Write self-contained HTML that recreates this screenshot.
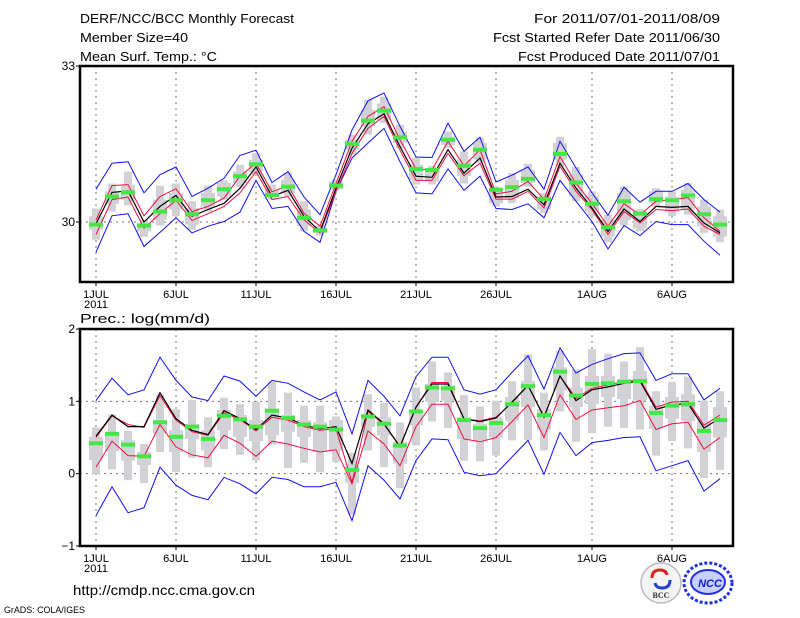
<!DOCTYPE html>
<html><head><meta charset="utf-8"><style>
html,body{margin:0;padding:0;background:#fff;width:800px;height:618px;overflow:hidden}
svg{display:block;font-family:"Liberation Sans",sans-serif}
</style></head><body>
<svg id="chart" width="800" height="618" viewBox="0 0 800 618" xmlns="http://www.w3.org/2000/svg">
<g font-size="13" fill="#000">
<text x="80" y="23" textLength="214" lengthAdjust="spacingAndGlyphs">DERF/NCC/BCC Monthly Forecast</text>
<text x="80" y="42" textLength="108" lengthAdjust="spacingAndGlyphs">Member Size=40</text>
<text x="80" y="61" textLength="137" lengthAdjust="spacingAndGlyphs">Mean Surf. Temp.: °C</text>
<text x="720" y="23" text-anchor="end" textLength="186" lengthAdjust="spacingAndGlyphs">For 2011/07/01-2011/08/09</text>
<text x="720" y="42" text-anchor="end" textLength="227" lengthAdjust="spacingAndGlyphs">Fcst Started Refer Date 2011/06/30</text>
<text x="720" y="61" text-anchor="end" textLength="202" lengthAdjust="spacingAndGlyphs">Fcst Produced Date 2011/07/01</text>
<text x="80" y="323" textLength="130" lengthAdjust="spacingAndGlyphs">Prec.: log(mm/d)</text>
<text x="73" y="595" font-size="14" textLength="182" lengthAdjust="spacingAndGlyphs">http://cmdp.ncc.cma.gov.cn</text>
<text x="4" y="613" font-size="9" textLength="81" lengthAdjust="spacingAndGlyphs">GrADS: COLA/IGES</text>
</g>
<g id="top"></g>
<g id="bot"></g>
<g>
<circle cx="661" cy="583" r="20" fill="#f4f4f4" stroke="#bbb" stroke-width="1.5"/>
<path d="M652 578 q0 -8 8 -8 q6 0 7 5" fill="none" stroke="#e02020" stroke-width="3"/>
<path d="M670 580 q0 8 -8 8 q-6 0 -7 -5" fill="none" stroke="#2040d0" stroke-width="3"/>
<text x="661" y="598" font-size="8" font-weight="bold" text-anchor="middle" fill="#333" font-family="Liberation Serif,serif">BCC</text>
</g>
<g>
<ellipse cx="708" cy="583" rx="24" ry="20" fill="none" stroke="#2030e0" stroke-width="3" stroke-dasharray="3 2"/>
<ellipse cx="708" cy="582" rx="17" ry="12" fill="#c8d0ff" stroke="#2030e0" stroke-width="2"/>
<text x="710" y="587" font-size="11" font-weight="bold" font-style="italic" text-anchor="middle" fill="#1020d0">NCC</text>
</g>
</svg>
<script>
// ---- Temperature panel data (°C), days Jul1..Aug9 ----
const tDays = 40;
const tTickLabels = ["1JUL","6JUL","11JUL","16JUL","21JUL","26JUL","1AUG","6AUG"];
const tTickDays = [0,5,10,15,20,25,31,36];
const tBlueHi = [30.63,31.13,31.16,30.56,30.91,31.06,30.49,30.65,30.84,31.28,31.38,30.76,30.97,30.48,30.14,30.91,31.77,32.33,32.48,31.84,31.25,31.24,31.90,31.36,31.63,30.77,30.90,31.06,30.63,31.55,31.04,30.56,30.13,30.67,30.38,30.59,30.59,30.74,30.43,30.19];
const tBlueLo = [29.42,30.12,30.16,29.53,29.80,30.08,29.79,29.92,30.01,30.19,30.80,30.26,30.30,29.82,29.61,30.59,31.23,31.52,31.80,31.16,30.56,30.54,31.02,30.61,30.88,30.26,30.24,30.35,30.08,30.80,30.40,30.01,29.48,29.93,29.74,30.01,29.95,29.95,29.63,29.36];
const tMean = [29.97,30.57,30.60,30.00,30.30,30.51,30.11,30.24,30.36,30.65,31.06,30.49,30.61,30.11,29.82,30.65,31.42,31.89,32.08,31.45,30.88,30.86,31.39,30.94,31.23,30.48,30.49,30.63,30.33,31.13,30.65,30.27,29.82,30.25,30.01,30.30,30.28,30.30,29.98,29.79];
const tRedHi = [30.04,30.70,30.72,30.12,30.49,30.64,30.20,30.30,30.46,30.88,31.13,30.58,30.70,30.17,29.92,30.74,31.55,32.03,32.22,31.58,31.02,31.00,31.55,31.08,31.39,30.54,30.59,30.78,30.43,31.26,30.74,30.36,29.92,30.35,30.14,30.40,30.43,30.47,30.08,29.82];
const tRedLo = [29.76,30.43,30.48,29.88,30.16,30.42,30.03,30.16,30.30,30.56,30.97,30.43,30.49,30.04,29.79,30.59,31.32,31.80,32.03,31.38,30.80,30.80,31.32,30.89,31.13,30.44,30.44,30.59,30.27,31.07,30.59,30.24,29.76,30.20,29.98,30.24,30.22,30.25,29.92,29.76];
const tGreen = [29.95,30.49,30.57,29.93,30.20,30.42,30.15,30.42,30.63,30.88,31.11,30.52,30.68,30.08,29.84,30.70,31.50,31.95,32.14,31.63,31.02,31.00,31.58,31.08,31.39,30.62,30.67,30.83,30.44,31.31,30.76,30.35,29.90,30.40,30.16,30.44,30.42,30.51,30.15,29.95];
const tWhiskHi = [30.26,30.74,30.97,30.04,30.70,30.74,30.40,30.70,30.80,31.10,31.32,30.72,30.95,30.40,29.93,30.81,31.68,32.35,32.41,31.87,31.23,31.08,31.74,31.36,31.62,30.68,30.94,31.12,30.56,31.64,31.06,30.59,30.14,30.68,30.25,30.65,30.59,30.75,30.43,30.24];
const tWhiskLo = [29.66,30.20,30.32,29.71,29.93,30.11,29.85,30.20,30.43,30.67,30.91,30.43,30.49,29.82,29.74,30.61,31.29,31.68,31.90,31.42,30.72,30.72,31.42,30.74,31.14,30.30,30.36,30.68,30.17,31.07,30.40,30.11,29.61,29.93,29.82,30.30,30.11,30.14,29.79,29.61];
const tBoxHi = [30.11,30.59,30.72,29.98,30.43,30.56,30.27,30.56,30.75,30.97,31.20,30.62,30.81,30.24,29.88,30.78,31.58,32.16,32.28,31.74,31.10,31.00,31.64,31.20,31.52,30.62,30.81,31.00,30.49,31.52,30.91,30.49,30.04,30.56,30.20,30.59,30.49,30.62,30.30,30.11];
const tBoxLo = [29.85,30.35,30.43,29.82,30.04,30.24,29.95,30.30,30.49,30.75,30.97,30.49,30.56,29.92,29.79,30.63,31.39,31.84,31.96,31.52,30.81,30.78,31.48,30.88,31.20,30.36,30.46,30.75,30.24,31.20,30.49,30.20,29.72,30.04,29.88,30.36,30.20,30.24,29.92,29.72];
const tYTicks = [33,30];

// ---- Precipitation panel data (log mm/d) ----
const pBlueHi = [1.01,1.32,1.09,1.16,1.61,1.29,1.06,1.01,1.35,1.28,1.07,1.29,1.25,1.13,1.02,1.13,0.55,1.29,1.07,0.80,1.34,1.61,1.61,1.16,1.10,1.16,1.40,1.63,1.17,1.74,1.39,1.51,1.59,1.66,1.67,1.29,1.38,1.38,1.02,1.18];
const pBlueLo = [-0.58,-0.18,-0.54,-0.47,0.09,-0.16,-0.30,-0.36,-0.05,-0.14,-0.28,-0.05,-0.08,-0.18,-0.18,-0.12,-0.65,0.11,-0.09,-0.35,0.18,0.48,0.47,0.02,-0.03,0.00,0.23,0.46,-0.01,0.57,0.25,0.43,0.46,0.50,0.51,0.04,0.11,0.18,-0.24,-0.07];
const pMean = [0.52,0.81,0.65,0.65,1.12,0.76,0.60,0.54,0.87,0.76,0.61,0.81,0.77,0.67,0.62,0.65,0.14,0.88,0.69,0.37,0.92,1.24,1.24,0.76,0.72,0.77,0.99,1.22,0.78,1.35,1.01,1.16,1.20,1.25,1.28,0.89,0.95,0.97,0.63,0.77];
const pRedHi = [0.50,0.80,0.68,0.64,1.08,0.74,0.58,0.53,0.84,0.75,0.59,0.78,0.74,0.65,0.60,0.62,-0.12,0.86,0.68,0.38,0.92,1.26,1.26,0.76,0.73,0.78,0.98,1.22,0.79,1.35,1.04,1.18,1.23,1.27,1.30,0.92,0.99,1.00,0.67,0.81];
const pRedLo = [0.09,0.45,0.25,0.24,0.68,0.37,0.26,0.22,0.53,0.42,0.24,0.45,0.41,0.35,0.30,0.33,-0.14,0.59,0.41,0.11,0.65,0.96,0.96,0.48,0.44,0.50,0.72,0.95,0.50,1.09,0.75,0.88,0.91,0.94,1.01,0.61,0.69,0.71,0.34,0.50];
const pGreen = [0.42,0.55,0.40,0.24,0.71,0.51,0.65,0.48,0.80,0.75,0.65,0.87,0.77,0.68,0.65,0.61,0.05,0.79,0.69,0.39,0.86,1.19,1.18,0.74,0.63,0.70,0.96,1.21,0.81,1.41,1.08,1.24,1.25,1.27,1.28,0.84,0.94,0.96,0.59,0.74];
const pWhiskHi = [0.64,0.82,0.59,0.41,1.09,0.89,1.02,0.78,1.05,0.96,0.99,1.27,1.12,0.94,0.94,0.79,0.29,1.10,0.98,0.71,1.19,1.55,1.40,1.09,0.93,1.01,1.28,1.65,1.12,1.70,1.44,1.72,1.66,1.55,1.75,1.14,1.27,1.34,1.01,1.14];
const pWhiskLo = [0.00,0.06,-0.09,-0.13,0.30,0.02,0.22,0.09,0.34,0.26,0.18,0.40,0.08,0.15,0.02,0.16,-0.57,0.32,0.09,-0.20,0.39,0.72,0.63,0.18,0.17,0.25,0.46,0.46,0.32,0.86,0.44,0.56,0.65,0.63,0.61,0.25,0.45,0.35,-0.06,0.05];
const pBoxHi = [0.51,0.58,0.46,0.30,0.74,0.60,0.69,0.60,0.88,0.81,0.74,0.90,0.81,0.74,0.71,0.74,0.12,0.83,0.78,0.44,0.88,1.24,1.22,0.78,0.69,0.78,1.06,1.28,0.89,1.47,1.19,1.35,1.35,1.31,1.42,0.94,1.06,1.10,0.73,0.92];
const pBoxLo = [0.19,0.31,0.18,0.12,0.55,0.30,0.48,0.32,0.60,0.51,0.45,0.53,0.58,0.51,0.30,0.32,-0.13,0.65,0.53,0.14,0.67,0.99,1.01,0.48,0.46,0.50,0.73,0.92,0.60,1.15,0.92,0.96,1.06,1.03,1.01,0.62,0.76,0.73,0.30,0.50];
const pYTicks = [2,1,0,-1];

const NS = "http://www.w3.org/2000/svg";
function mk(parent, tag, attrs){const e=document.createElementNS(NS,tag);for(const k in attrs)e.setAttribute(k,attrs[k]);parent.appendChild(e);return e;}
const xOf = d => 96 + d*16.0;

function panel(g, top, bottom, vTop, vBot, yTicks, gridVals, s){
  const yOf = v => top + (vTop - v)/(vTop - vBot)*(bottom-top);
  // grid
  tTickDays.forEach(d=>{
    const l=mk(g,'line',{x1:xOf(d),x2:xOf(d),y1:top,y2:bottom,stroke:'#777','stroke-width':1,'stroke-dasharray':'2 4'});
    
    
  });
  gridVals.forEach(v=>{
    const l=mk(g,'line',{x1:80,x2:733,y1:yOf(v),y2:yOf(v),stroke:'#777','stroke-width':1,'stroke-dasharray':'2 4'});
    
    
  });
  // boxes
  for(let d=0; d<tDays; d++){
    const x=xOf(d);
    const w=mk(g,'rect',{x:x-4,y:yOf(s.wh[d]),width:8,height:Math.max(1,yOf(s.wl[d])-yOf(s.wh[d])),fill:'#d2d2d6'});
    
    
    const b=mk(g,'rect',{x:x-7,y:yOf(s.bh[d]),width:14,height:Math.max(1,yOf(s.bl[d])-yOf(s.bh[d])),fill:'#d2d2d6'});
    
    
  }
  const line=(arr,col,w,name)=>{
    const p=mk(g,'polyline',{points:arr.map((v,d)=>xOf(d)+','+yOf(v).toFixed(1)).join(' '),fill:'none',stroke:col,'stroke-width':w});
    
    
  };
  line(s.bh2,'#1010f0',1,'max-line');
  line(s.bl2,'#1010f0',1,'min-line');
  line(s.rh,'#f01040',1,'upper-red-line');
  line(s.rl,'#f01040',1,'lower-red-line');
  line(s.m,'#000',1.2,'ensemble-mean-line');
  for(let d=0; d<tDays; d++){
    const r=mk(g,'rect',{x:xOf(d)-7,y:yOf(s.g[d])-2,width:14,height:4,fill:'#44e844'});
    
    
  }
  // frame
  const f=mk(g,'rect',{x:80,y:top,width:653,height:bottom-top,fill:'none',stroke:'#000','stroke-width':2.5});
  
  
  yTicks.forEach(v=>{
    const t=mk(g,'line',{x1:76,x2:80,y1:yOf(v),y2:yOf(v),stroke:'#000'});
    
    
    const tx=mk(g,'text',{x:75,y:yOf(v)+4,'font-size':12,'text-anchor':'end'});
    tx.textContent=(v<0?'\u2212'+(-v):String(v));
    
    
  });
  tTickDays.forEach((d,i)=>{
    const t=mk(g,'line',{x1:xOf(d),x2:xOf(d),y1:bottom,y2:bottom+4,stroke:'#000'});
    
    
    const tx=mk(g,'text',{x:xOf(d),y:bottom+16,'font-size':11,'text-anchor':'middle'});
    tx.textContent=tTickLabels[i];
    
    
  });
  const yr=mk(g,'text',{x:xOf(0),y:bottom+26,'font-size':11,'text-anchor':'middle'});
  yr.textContent='2011';
  
  
}
panel(document.getElementById('top'),66,282,33,30-60/52,tYTicks,[30],
 {wh:tWhiskHi,wl:tWhiskLo,bh:tBoxHi,bl:tBoxLo,bh2:tBlueHi,bl2:tBlueLo,rh:tRedHi,rl:tRedLo,m:tMean,g:tGreen});
panel(document.getElementById('bot'),329,546,2,-1,pYTicks,[1,0],
 {wh:pWhiskHi,wl:pWhiskLo,bh:pBoxHi,bl:pBoxLo,bh2:pBlueHi,bl2:pBlueLo,rh:pRedHi,rl:pRedLo,m:pMean,g:pGreen});
</script>
</body></html>
